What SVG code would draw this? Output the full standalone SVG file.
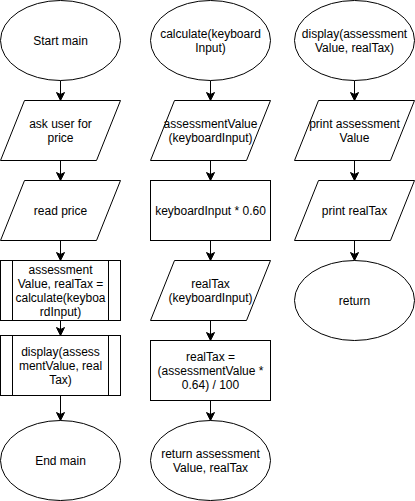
<svg xmlns="http://www.w3.org/2000/svg" width="415" height="501" viewBox="0 0 415 501">
<style>
.s{fill:#fff;stroke:#000;stroke-width:1}
.t{font-family:"Liberation Sans",Arial,sans-serif;font-size:12px;fill:#000;text-anchor:middle}
.c{stroke:#000;stroke-width:1;fill:none}
</style>
<defs>
<marker id="a" markerUnits="userSpaceOnUse" markerWidth="10" markerHeight="10" viewBox="0 0 10 10" refX="9" refY="5" orient="auto">
<path d="M1,1 L9,5 L1,9 L3,5 Z" fill="#000" stroke="#000" stroke-width="1"/>
</marker>
</defs>
<rect x="0" y="0" width="415" height="501" fill="#fff"/>
<g id="connectors">
<path class="c" marker-end="url(#a)" d="M60.5,80.5 V100.5"/>
<path class="c" marker-end="url(#a)" d="M60.5,160.5 V180.5"/>
<path class="c" marker-end="url(#a)" d="M60.5,240.5 V260.5"/>
<path class="c" marker-end="url(#a)" d="M60.5,320.5 V335.5"/>
<path class="c" marker-end="url(#a)" d="M60.5,395.5 V420.5"/>
<path class="c" marker-end="url(#a)" d="M210.5,80.5 V100.5"/>
<path class="c" marker-end="url(#a)" d="M210.5,160.5 V180.5"/>
<path class="c" marker-end="url(#a)" d="M210.5,240.5 V260.5"/>
<path class="c" marker-end="url(#a)" d="M210.5,320.5 V340.5"/>
<path class="c" marker-end="url(#a)" d="M210.5,400.5 V420.5"/>
<path class="c" marker-end="url(#a)" d="M354.5,80.5 V100.5"/>
<path class="c" marker-end="url(#a)" d="M354.5,160.5 V180.5"/>
<path class="c" marker-end="url(#a)" d="M354.5,240.5 V260.5"/>
</g>
<g id="start-main">
<ellipse class="s" cx="60.5" cy="40.5" rx="60" ry="40"/>
<text class="t" x="60.5" y="45">Start main</text>
</g>
<g id="ask-user">
<path class="s" d="M24.5,100.5 H120.5 L96.5,160.5 H0.5 Z"/>
<text class="t" x="60.5" y="128">ask user for</text>
<text class="t" x="60.5" y="142">price</text>
</g>
<g id="read-price">
<path class="s" d="M24.5,180.5 H120.5 L96.5,240.5 H0.5 Z"/>
<text class="t" x="60.5" y="215">read price</text>
</g>
<g id="call-calculate">
<rect class="s" x="0.5" y="260.5" width="120" height="60"/>
<path class="c" d="M12.5,260.5 V320.5 M108.5,260.5 V320.5"/>
<text class="t" x="60.5" y="274">assessment</text>
<text class="t" x="60.5" y="288">Value, realTax =</text>
<text class="t" x="60.5" y="302">calculate(keyboa</text>
<text class="t" x="60.5" y="316">rdInput)</text>
</g>
<g id="call-display">
<rect class="s" x="0.5" y="335.5" width="120" height="60"/>
<path class="c" d="M12.5,335.5 V395.5 M108.5,335.5 V395.5"/>
<text class="t" x="60.5" y="356">display(assess</text>
<text class="t" x="60.5" y="370">mentValue, real</text>
<text class="t" x="60.5" y="384">Tax)</text>
</g>
<g id="end-main">
<ellipse class="s" cx="60.5" cy="460.5" rx="60" ry="40"/>
<text class="t" x="60.5" y="465">End main</text>
</g>
<g id="calculate">
<ellipse class="s" cx="210.5" cy="40.5" rx="60" ry="40"/>
<text class="t" x="210.5" y="38">calculate(keyboard</text>
<text class="t" x="210.5" y="52">Input)</text>
</g>
<g id="assessment-value">
<path class="s" d="M174.5,100.5 H270.5 L246.5,160.5 H150.5 Z"/>
<text class="t" x="210.5" y="128">assessmentValue</text>
<text class="t" x="210.5" y="142">(keyboardInput)</text>
</g>
<g id="multiply">
<rect class="s" x="150.5" y="180.5" width="120" height="60"/>
<text class="t" x="210.5" y="215">keyboardInput * 0.60</text>
</g>
<g id="real-tax">
<path class="s" d="M174.5,260.5 H270.5 L246.5,320.5 H150.5 Z"/>
<text class="t" x="210.5" y="288">realTax</text>
<text class="t" x="210.5" y="302">(keyboardInput)</text>
</g>
<g id="real-tax-calc">
<rect class="s" x="150.5" y="340.5" width="120" height="60"/>
<text class="t" x="210.5" y="361">realTax =</text>
<text class="t" x="210.5" y="375">(assessmentValue *</text>
<text class="t" x="210.5" y="389">0.64) / 100</text>
</g>
<g id="return-values">
<ellipse class="s" cx="210.5" cy="460.5" rx="60" ry="40"/>
<text class="t" x="210.5" y="458">return assessment</text>
<text class="t" x="210.5" y="472">Value, realTax</text>
</g>
<g id="display">
<ellipse class="s" cx="354.5" cy="40.5" rx="60" ry="40"/>
<text class="t" x="354.5" y="38">display(assessment</text>
<text class="t" x="354.5" y="52">Value, realTax)</text>
</g>
<g id="print-assessment">
<path class="s" d="M318.5,100.5 H414.5 L390.5,160.5 H294.5 Z"/>
<text class="t" x="354.5" y="128">print assessment</text>
<text class="t" x="354.5" y="142">Value</text>
</g>
<g id="print-realtax">
<path class="s" d="M318.5,180.5 H414.5 L390.5,240.5 H294.5 Z"/>
<text class="t" x="354.5" y="215">print realTax</text>
</g>
<g id="return">
<ellipse class="s" cx="354.5" cy="300.5" rx="60" ry="40"/>
<text class="t" x="354.5" y="305">return</text>
</g>
</svg>
